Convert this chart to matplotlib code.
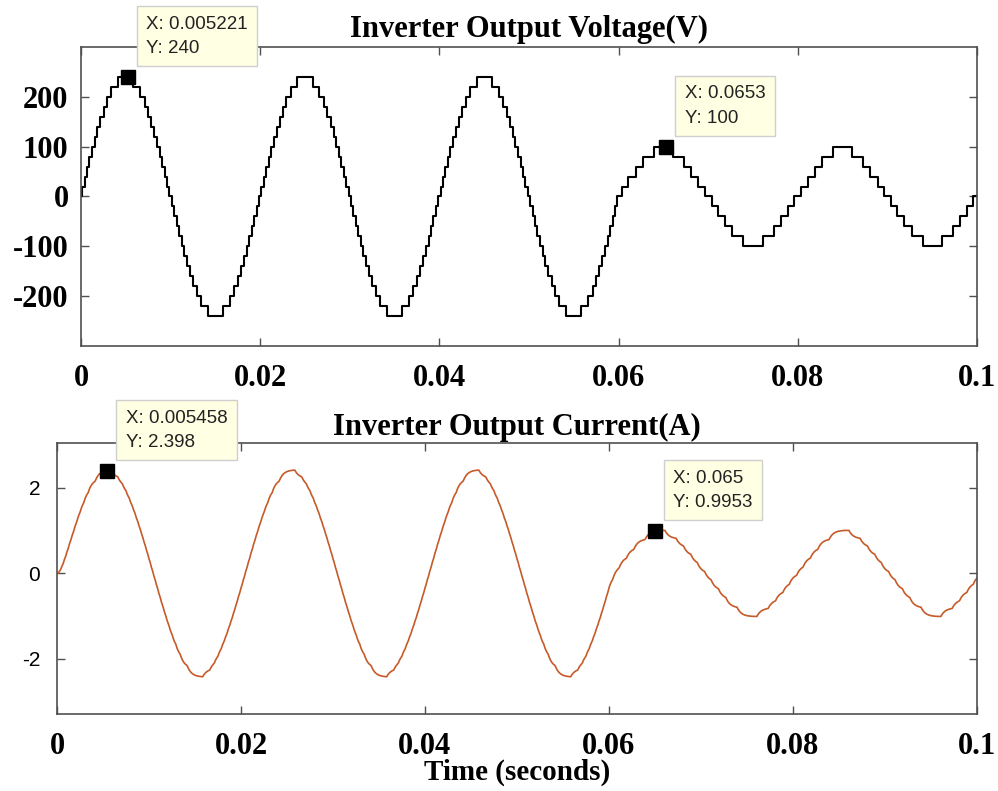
import numpy as np
import matplotlib
matplotlib.use("Agg")
import matplotlib.pyplot as plt

# staircase: rising switching instants (ms after a zero crossing)
# and the level reached at each instant, one quarter cycle (50 Hz)
v_step_ms_hi = [0.13, 0.40, 0.67, 0.94, 1.22, 1.52, 1.82, 2.15, 2.51, 2.91, 3.39, 4.15]
v_level_hi = [20, 40, 60, 80, 100, 120, 140, 160, 180, 200, 220, 240]
v_step_ms_lo = [0.40, 1.10, 1.90, 2.70, 3.92]
v_level_lo = [20, 40, 60, 80, 100]
t_amp_change = 0.06      # s, amplitude drops from 240 V to 100 V
half_cycle_ms = 10.0
t_end = 0.1

# load seen by the current trace (peak 2.398 A for 240 V, lag ~0.46 ms)
R_load = 99.0
L_load = 0.046

# data tips shown in the picture
tips_v = [(0.005221, 240), (0.0653, 100)]
tips_i = [(0.005458, 2.398), (0.065, 0.9953)]

xticks = [0, 0.02, 0.04, 0.06, 0.08, 0.1]
xtick_labels = ["0", "0.02", "0.04", "0.06", "0.08", "0.1"]
vticks = [-200, -100, 0, 100, 200]
iticks = [-2, 0, 2]


def build_voltage():
    times = [0.0]
    vals = [0.0]
    n_half = int(round(t_end * 1000 / half_cycle_ms))
    for n in range(n_half):
        t0 = n * half_cycle_ms
        sign = 1 if n % 2 == 0 else -1
        if t0 / 1000 < t_amp_change - 1e-9:
            steps, levels = v_step_ms_hi, v_level_hi
        else:
            steps, levels = v_step_ms_lo, v_level_lo
        for ts, lv in zip(steps, levels):
            times.append((t0 + ts) / 1000)
            vals.append(sign * lv)
        lows = [0] + levels[:-1]
        for ts, lv in zip(steps[::-1], lows[::-1]):
            times.append((t0 + half_cycle_ms - ts) / 1000)
            vals.append(sign * lv)
    times.append(t_end)
    vals.append(vals[-1])
    return np.array(times), np.array(vals, dtype=float)


def load_current(tv, vv, dt=1e-6):
    t = np.arange(0, t_end + dt / 2, dt)
    idx = np.searchsorted(tv, t, side="right") - 1
    v = vv[np.clip(idx, 0, len(vv) - 1)]
    a = np.exp(-dt * R_load / L_load)
    i = np.zeros_like(t)
    for k in range(1, len(t)):
        i[k] = i[k - 1] * a + (1 - a) * v[k - 1] / R_load
    return t, i


def add_tip(ax, x, y):
    ax.plot([x], [y], marker="s", ms=10, color="black", zorder=6, clip_on=False)
    ax.annotate(f"X: {x:g}\nY: {y:g}", xy=(x, y), xytext=(13.3, 14.5),
                textcoords="offset points", ha="left", va="bottom",
                fontsize=13.5, family="Liberation Sans", color="#222222",
                linespacing=1.55, annotation_clip=False, zorder=7,
                bbox=dict(boxstyle="square,pad=0.5", fc="#ffffe3", ec="#cfcfcf", lw=1))


def style_axes(ax):
    for sp in ax.spines.values():
        sp.set_color("#505050")
        sp.set_linewidth(1.2)
    ax.tick_params(direction="in", length=6, width=1.0, color="#505050",
                   top=True, right=True)
    ax.set_xlim(0, t_end)
    ax.set_xticks(xticks)
    ax.set_xticklabels(xtick_labels, fontsize=22, fontweight="bold",
                       family="Liberation Serif")


tv, vv = build_voltage()
ti, ii = load_current(tv, vv)

fig = plt.figure(figsize=(9.98, 7.91), dpi=100)

ax1 = fig.add_axes([0.0812, 0.5626, 0.8978, 0.378])
ax1.plot(tv, vv, drawstyle="steps-post", color="black", lw=1.5)
style_axes(ax1)
ax1.set_ylim(-300, 300)
ax1.set_yticks(vticks)
ax1.set_yticklabels([str(v) for v in vticks], fontsize=22, fontweight="bold",
                    family="Liberation Serif")
ax1.tick_params(axis="x", pad=13)
ax1.tick_params(axis="y", pad=9)
ax1.set_title("Inverter Output Voltage(V)", fontsize=22, fontweight="bold",
              family="Liberation Serif", pad=7)
for x, y in tips_v:
    add_tip(ax1, x, y)

ax2 = fig.add_axes([0.0571, 0.0973, 0.9218, 0.3426])
ax2.plot(ti, ii, color="#c65a28", lw=1.2)
style_axes(ax2)
ax2.set_ylim(-3.29, 3.05)
ax2.set_yticks(iticks)
ax2.set_yticklabels([str(v) for v in iticks], fontsize=15, family="Liberation Sans")
ax2.tick_params(axis="x", pad=13)
ax2.tick_params(axis="y", pad=12)
ax2.set_title("Inverter Output Current(A)", fontsize=22, fontweight="bold",
              family="Liberation Serif", pad=6)
ax2.set_xlabel("Time (seconds)", fontsize=21, fontweight="bold",
               family="Liberation Serif", labelpad=-2)
for x, y in tips_i:
    add_tip(ax2, x, y)

fig.savefig("out.png", dpi=100)
